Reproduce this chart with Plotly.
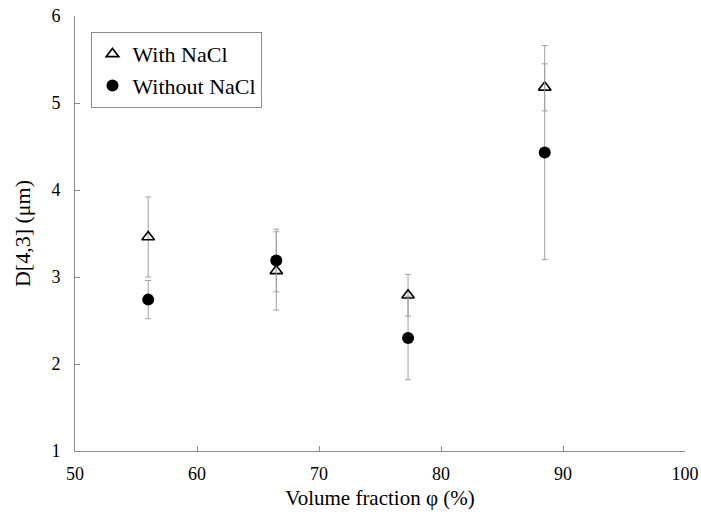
import plotly.graph_objects as go

# Data
phi = [56.0, 66.5, 77.3, 88.5]
with_nacl = [3.46, 3.07, 2.79, 5.18]
with_nacl_err = [0.46, 0.45, 0.24, 0.27]
without_nacl = [2.74, 3.19, 2.30, 4.43]
without_nacl_err = [0.22, 0.36, 0.48, 1.23]

x_ticks = [50, 60, 70, 80, 90, 100]
y_ticks = [1, 2, 3, 4, 5, 6]

FONT = "Liberation Serif"
AXC = "#8c8c8c"

fig = go.Figure()
fig.add_trace(go.Scatter(
    x=phi, y=with_nacl, mode="markers", name="With NaCl",
    marker=dict(symbol="triangle-up-open", size=11, color="black",
                line=dict(width=1.6, color="black")),
    error_y=dict(type="data", array=with_nacl_err, visible=True,
                 color="#a0a0a0", thickness=1, width=3),
))
fig.add_trace(go.Scatter(
    x=phi, y=without_nacl, mode="markers", name="Without NaCl",
    marker=dict(symbol="circle", size=12, color="black"),
    error_y=dict(type="data", array=without_nacl_err, visible=True,
                 color="#a0a0a0", thickness=1, width=3),
))

fig.update_layout(
    width=701, height=516,
    margin=dict(l=74.5, r=16, t=16, b=65, autoexpand=False),
    paper_bgcolor="white", plot_bgcolor="white",
    font=dict(family=FONT, size=18, color="black"),
    showlegend=True,
    legend=dict(x=0.027, y=0.963, xanchor="left", yanchor="top",
                bordercolor=AXC, borderwidth=1, bgcolor="white",
                font=dict(family=FONT, size=22, color="black"),
                tracegroupgap=0, itemwidth=30),
)
fig.update_xaxes(
    range=[50, 100], tickvals=x_ticks, ticktext=[str(v) for v in x_ticks],
    showgrid=False, zeroline=False, showline=True, linecolor=AXC, linewidth=1,
    ticks="inside", ticklen=5, tickcolor=AXC, tickwidth=1,
    ticklabelstandoff=6, automargin=False, ticklabeloverflow="allow",
    title=dict(text="Volume fraction φ (%)", font=dict(family=FONT, size=21), standoff=7),
)
fig.update_yaxes(
    range=[1, 6], tickvals=y_ticks, ticktext=[str(v) for v in y_ticks],
    showgrid=False, zeroline=False, showline=True, linecolor=AXC, linewidth=1,
    ticks="inside", ticklen=5, tickcolor=AXC, tickwidth=1,
    ticklabelstandoff=10, automargin=False, ticklabeloverflow="allow",
    title=dict(text="D[4,3] (μm)", font=dict(family=FONT, size=22), standoff=14),
)

# remove the page's default 8px body margin so the figure fills the window
fig.write_html("out.html", config={"displayModeBar": False},
               post_script="document.body.style.margin='0';")
